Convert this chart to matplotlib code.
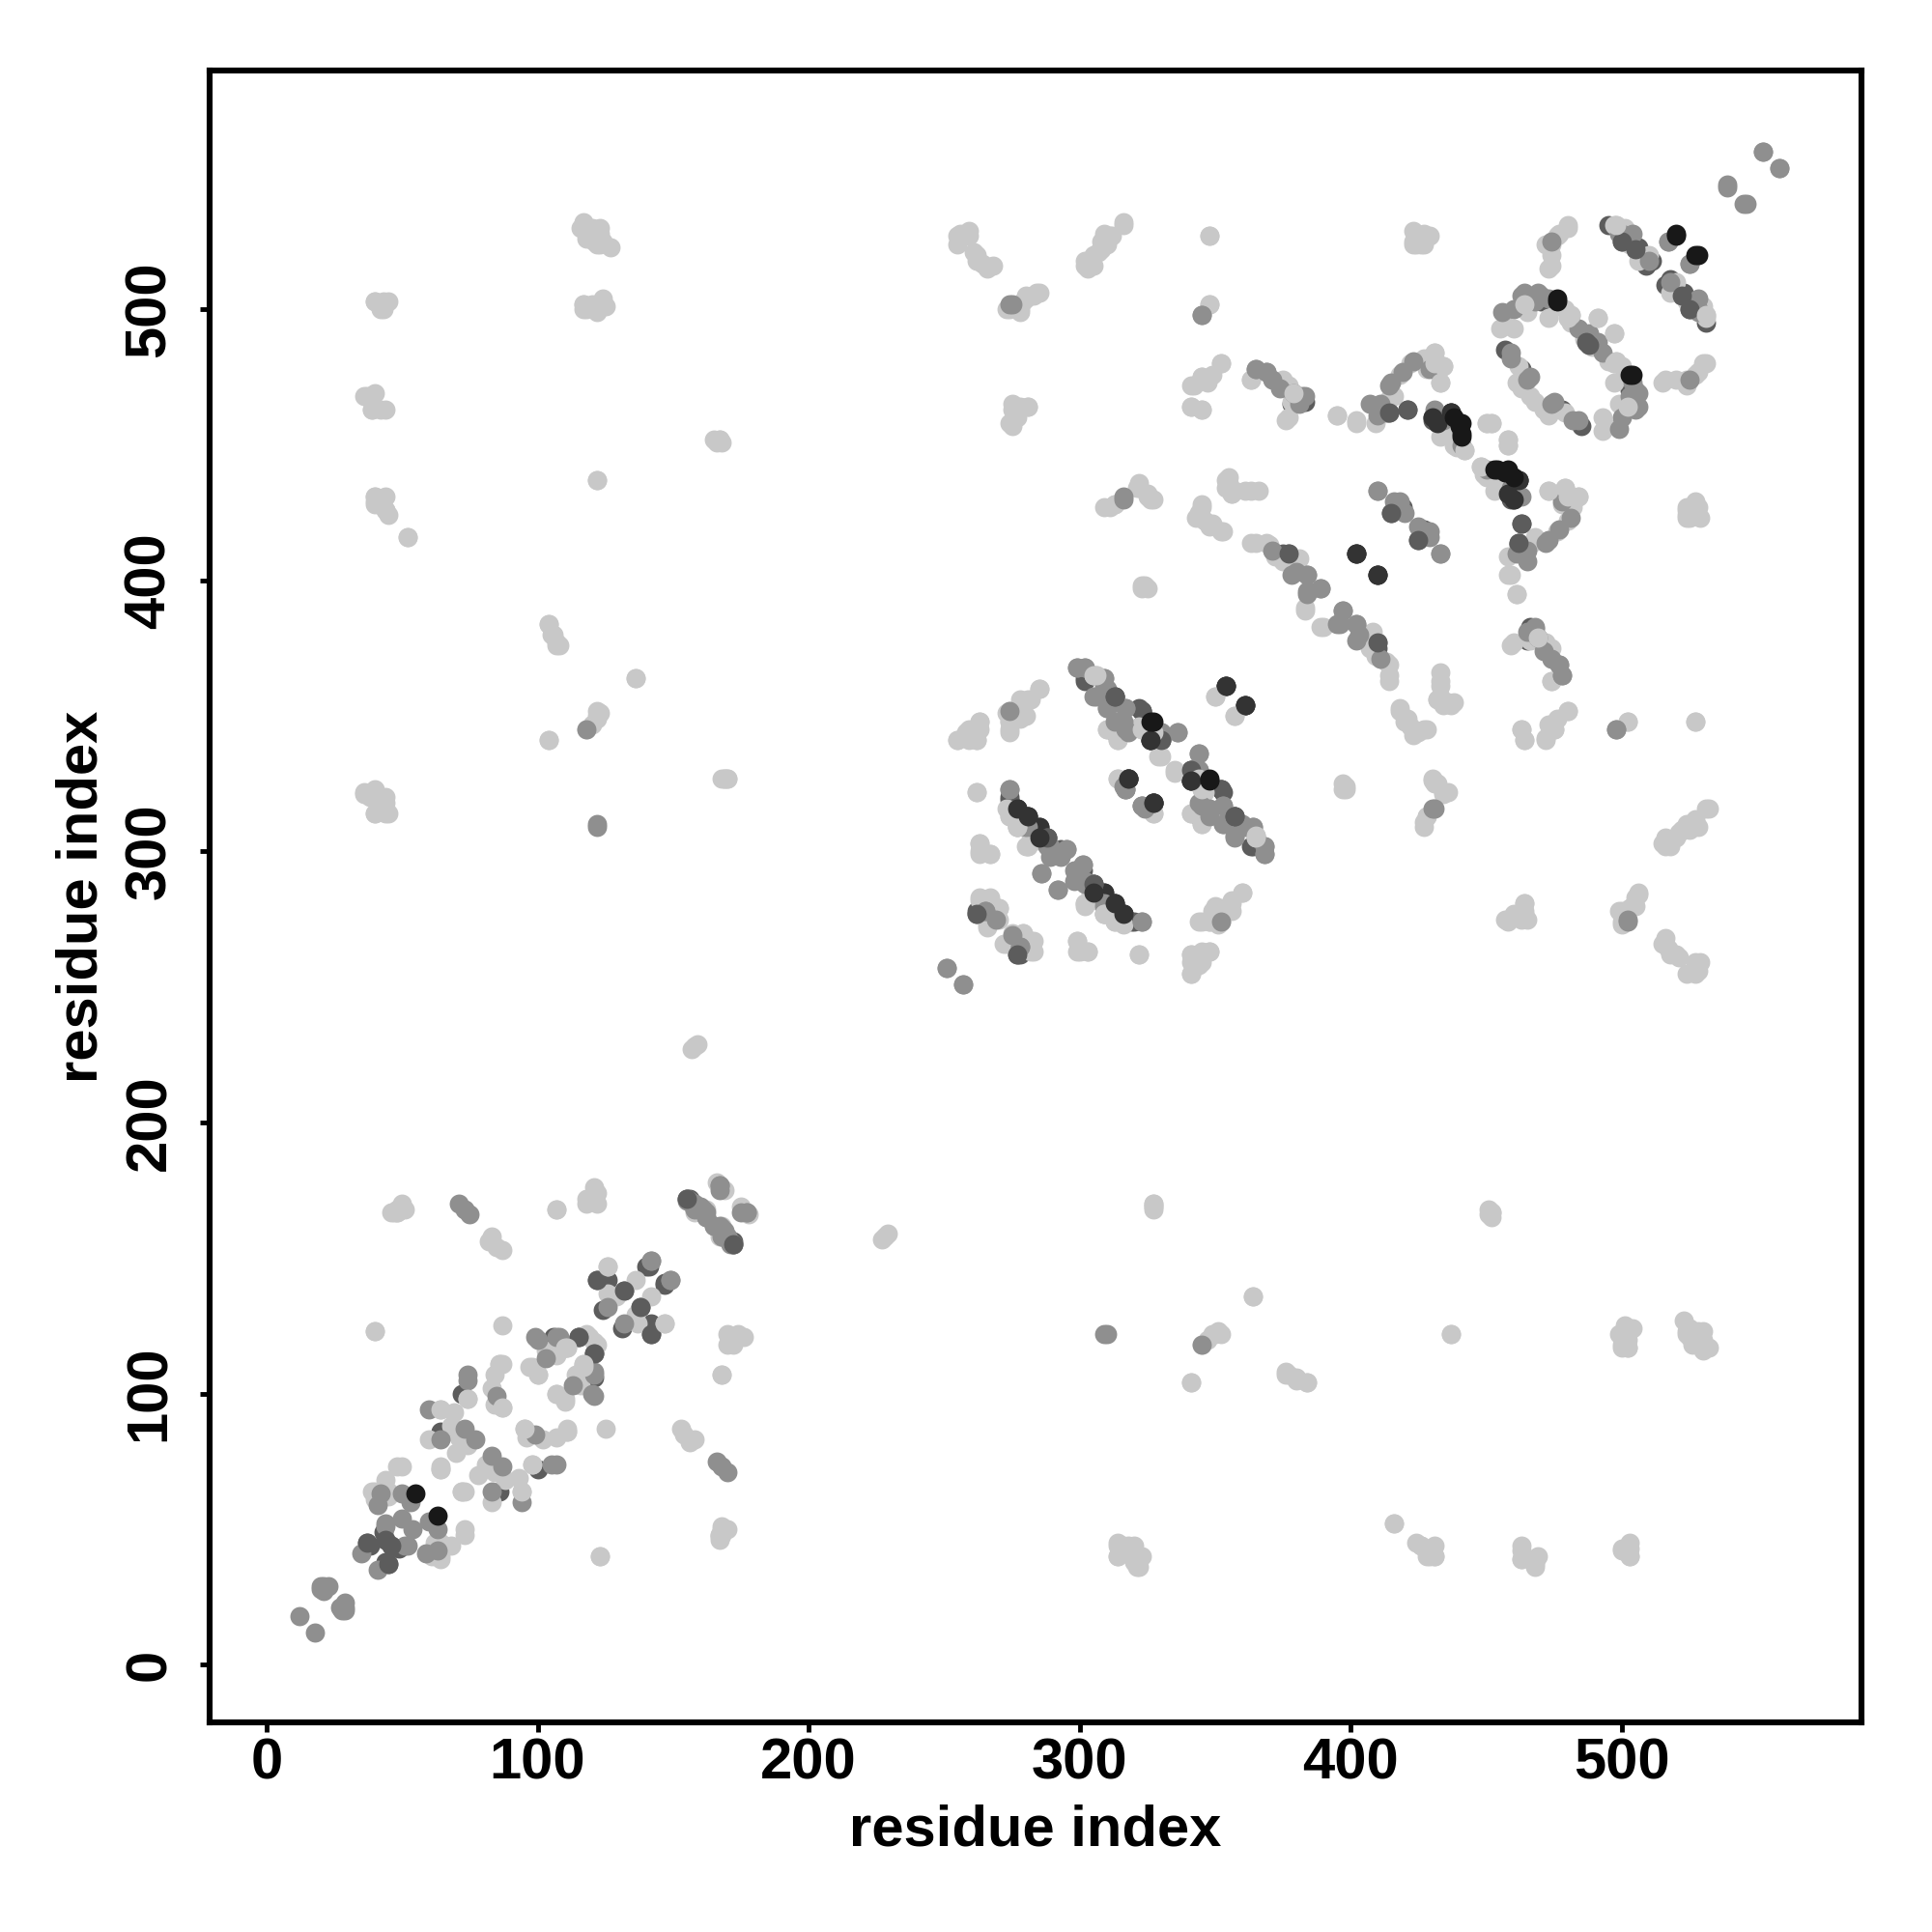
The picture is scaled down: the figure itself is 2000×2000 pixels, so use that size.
import numpy as np
import matplotlib
matplotlib.use("Agg")
import matplotlib.pyplot as plt

# residue pairs (i, j), i < j; the contact map is symmetric. Grouped by grey level.
light_pairs = [
 (40,61),(40,64),(44,68),(50,73),(45,64),(64,72),(39,64),(48,73),(64,94),(69,93),(68,88),(60,83),(71,84),(74,81),(74,98),
 (86,111),(84,107),(83,102),(87,95),(84,96),(103,116),(107,116),(111,117),(97,110),(100,107),(107,100),(110,98),(117,110),(114,107),
 (126,147),(136,142),(126,137),(129,136),(40,123),(87,125),(107,168),(120,172),(118,170),(122,170),(122,174),(118,172),(47,167),(51,168),(48,167),
 (83,158),(85,154),(82,156),(87,153),(158,167),(169,175),(73,64),(70,78),(48,167),(50,168),(123,40),(87,111),
 (157,227),(158,228),(159,229),(166,451),(167,452),(165,452),(168,451),(122,437),(167,452),
 (36,321),(40,323),(44,318),(40,314),(45,314),(42,316),(38,320),(40,503),(45,503),(43,500),(37,468),(40,469),(39,463),(44,463),
 (40,431),(40,428),(44,426),(45,424),(52,416),(118,530),(123,530),(118,526),(124,525),(127,523),(122,524),(118,528),
 (117,500),(122,499),(125,501),(120,502),(117,502),(104,384),(105,380),(107,376),(108,376),(104,341),(120,347),(123,351),(122,349),(136,364),(169,327),(170,327),
 (118,122),(119,121),(173,121),(176,121),(168,107),(168,73),(168,48),(170,50),(167,46),
 (256,527),(258,528),(255,524),(261,521),(264,517),(268,516),(262,518),(302,518),(304,518),(307,521),(310,524),(311,527),(316,532),(305,516),(302,516),
 (348,527),(285,506),(279,503),(278,499),(283,505),(274,500),(348,502),(277,464),(281,464),(275,457),(277,460),(278,464),
 (342,472),(345,475),(349,476),(352,480),(345,463),(341,464),(347,473),(363,474),(377,472),(377,460),(378,466),
 (395,461),(402,458),(409,458),(416,468),(418,476),(422,480),(427,482),(431,482),(434,479),(433,473),
 (436,457),(433,453),(438,450),(442,448),(452,458),(458,450),(454,434),(449,439),
 (497,531),(501,530),(510,520),(518,506),(531,498),(524,503),(457,494),(465,499),(481,498),(491,497),(486,489),(481,495),(479,500),(463,471),(461,473),
 (468,466),(479,462),(493,455),(493,460),(502,464),(497,480),(497,473),(515,473),(527,476),(531,480),(524,472),
 (480,530),(477,528),(474,524),(474,516),(474,520),(424,527),(427,526),(424,524),(429,527),(423,524),(426,524),
 (363,414),(370,413),(381,408),(375,407),(383,390),(389,383),(406,380),(414,369),(414,365),(409,372),
 (480,431),(478,428),(484,431),(467,414),(459,402),(461,395),(459,376),(469,379),(474,375),(474,363),
 (255,341),(259,343),(263,348),(262,341),(258,344),(274,344),(273,351),(274,348),(278,356),(282,356),(285,360),(280,350),
 (305,365),(310,345),(314,341),(330,335),(322,346),(327,344),(350,357),(357,350),(314,327),(327,314),(335,329),(345,323),(341,314),(345,310),(365,306),
 (273,316),(277,309),(281,302),(277,313),(285,304),(302,280),(309,277),(313,274),(306,282),(263,303),(263,299),(267,299),(262,322),(263,282),(267,282),(270,279),(266,273),
 (272,266),(275,270),(279,270),(283,267),(283,263),(299,267),(300,263),(303,263),(322,262),
 (360,285),(356,281),(352,279),(349,278),(345,274),(352,274),(348,274),(355,279),(341,255),(341,259),(345,259),(341,262),(345,263),(348,263),
 (397,323),(398,323),(418,352),(420,348),(422,346),(425,344),(428,345),(433,363),(433,357),(436,355),(438,355),(432,356),
 (430,326),(431,325),(436,322),(434,321),(428,313),(427,309),(463,345),(464,341),(472,341),(475,345),(480,352),(502,348),(527,348),
 (458,274),(463,275),(464,281),(465,275),(500,278),(504,280),(506,284),(505,280),(500,273),(518,303),(520,305),(522,308),(528,309),(525,308),(531,316),(527,312),(515,303),
 (515,266),(520,262),(527,259),(529,259),(527,255),(528,256),(525,423),(528,427),(524,427),(529,423),
 (354,437),(356,432),(361,433),(366,433),(354,434),(345,427),(345,423),(349,421),(353,418),(343,423),(313,428),(322,434),(327,430),(311,427),(325,432),(324,398),(325,397),
 (45,62),(166,178),(162,168),
 (314,44),(316,44),(320,44),(314,40),(322,40),(322,36),(416,52),(426,44),(429,40),(431,44),(431,40),(463,42),(463,39),(468,38),(468,36),(500,42),(503,43),(503,40),
 (327,169),(327,170),(327,168),(345,118),(350,122),(352,122),(437,122),(364,136),(377,107),(380,106),(384,104),(341,104),(500,118),(502,122),(504,124),(502,117),
 (525,121),(528,123),(530,120),(532,117),(530,116),(524,123),(528,119),
]
mid_pairs = [
 (12,18),(20,29),(23,29),(21,27),(20,28),(21,29),(35,41),(44,51),(44,52),(50,54),(53,60),(50,63),(42,63),(41,59),(60,94),(74,107),(85,99),(73,87),(77,83),(64,83),
 (100,120),(108,121),(115,121),(103,113),(121,107),(121,99),(74,105),(142,149),(149,142),(126,132),(71,170),(73,168),(75,166),(156,171),(158,170),(160,169),(161,168),(155,171),(162,167),(167,177),(175,167),(177,167),
 (158,168),(162,165),(155,172),(165,162),(122,309),(118,345),(275,502),(345,498),
 (365,478),(369,477),(374,471),(379,469),(383,468),(411,465),(415,473),(429,478),(434,459),(450,441),(463,431),(499,528),(504,528),(517,525),(525,517),(518,510),(527,503),(528,500),
 (456,499),(463,505),(470,505),(488,491),(459,482),(466,475),(474,465),(484,459),(500,460),(506,469),(504,473),(493,484),(506,464),(525,474),(503,468),
 (380,403),(384,402),(384,396),(389,397),(395,384),(397,389),(402,384),(402,378),(411,371),
 (410,433),(416,429),(418,428),(425,420),(429,418),(433,410),(481,423),(477,419),(472,414),(465,407),(461,410),(465,381),(468,382),(474,371),(477,369),(478,365),
 (299,368),(302,368),(309,364),(310,360),(305,357),(310,353),(317,353),(317,345),(330,344),(336,344),(313,348),(317,323),(324,316),
 (344,336),(344,330),(344,318),(353,317),(348,316),(353,310),(361,309),(364,309),(357,306),(368,302),(368,299),
 (274,323),(281,309),(288,302),(295,301),(289,298),(293,298),(286,292),(292,286),(299,290),(301,295),(302,289),(309,280),(323,274),(265,278),(269,275),(278,265),
 (539,546),(545,539),(552,558),(558,552),(251,257),(257,251),(498,345),(430,316),(502,274),(316,431),(310,122),(352,274),
]
dark_pairs = [
 (37,45),(38,44),(43,49),(44,46),(72,100),(64,86),(122,142),(126,142),(147,141),(132,138),(124,131),(140,147),(121,115),(106,121),
 (383,466),(414,462),(431,460),(457,485),(488,487),(506,523),(511,518),(522,505),(531,495),(516,509),(525,500),(463,478),(503,470),
 (463,421),(462,413),(465,378),(415,425),(427,419),(410,375),(377,410),(459,430),
 (302,363),(313,357),(313,344),(323,352),(330,341),(326,341),(323,317),(327,318),(318,327),(341,330),(341,326),(352,323),(345,314),(357,313),(364,302),
 (274,319),(288,305),(293,301),(305,288),(313,280),(316,277),(320,274),(262,277),(278,262),(353,322),
 (172,155),(168,158),(156,172),
]
darker_pairs = [
 (430,460),(437,462),(462,437),(459,436),(458,432),
 (402,410),(410,402),(354,361),(361,354),(318,327),(327,318),
 (277,316),(281,313),(285,309),(305,285),(309,285),(316,277),(313,281),(326,341),(323,352),
]
black_pairs = [
 (55,63),(520,527),(528,520),(440,457),(441,454),(438,460),(476,504),(503,476),(453,441),(458,441),
 (326,348),(348,327),
]
# later-drawn points that sit on top of the darker ones
overlay_light_pairs = [
 (64,72),(64,94),(74,98),(86,111),(87,95),(111,117),(117,110),(126,147),(458,450),(452,458),(442,448),(531,498),(481,498),(491,497),(497,480),(502,464),
 (469,379),(484,431),(305,365),(327,344),(345,323),(365,306),(277,309),(281,302),(309,277),(313,274),(480,431),(434,479),(433,473),
]

layers = [
    (darker_pairs, "#333333"),
    (dark_pairs, "#5c5c5c"),
    (light_pairs, "#c8c8c8"),
    (mid_pairs, "#8f8f8f"),
    (dark_pairs[::3], "#5c5c5c"),
    (overlay_light_pairs, "#c8c8c8"),
    (darker_pairs[::2], "#333333"),
    (black_pairs, "#181818"),
]
xticks = [0, 100, 200, 300, 400, 500]

plt.rcParams["font.family"] = ["Liberation Sans", "DejaVu Sans"]
plt.rcParams["font.weight"] = "bold"
fig = plt.figure(figsize=(20, 20), dpi=100)
ax = fig.add_axes([217/2000, 1 - 1783/2000, 1710/2000, 1710/2000])
for pairs, col in layers:
    a = np.array(pairs, dtype=float)
    ax.scatter(np.r_[a[:, 0], a[:, 1]], np.r_[a[:, 1], a[:, 0]], s=205, c=col, linewidths=0, zorder=2)
ax.set_xlim(-21, 588.4)
ax.set_ylim(-21.3, 588.1)
ax.set_xticks(xticks)
ax.set_yticks(xticks)
ax.tick_params(axis="both", length=7.5, width=3.5, labelsize=43)
ax.tick_params(axis="x", pad=4)
ax.tick_params(axis="y", pad=17)
for t in ax.get_yticklabels():
    t.set_rotation(90)
    t.set_va("center")
for s in ax.spines.values():
    s.set_linewidth(4.4)
ax.set_xlabel("residue index", fontsize=43, fontweight="bold", labelpad=10)
ax.set_ylabel("residue index", fontsize=43, fontweight="bold", labelpad=11)
fig.savefig("out.png", dpi=100)
